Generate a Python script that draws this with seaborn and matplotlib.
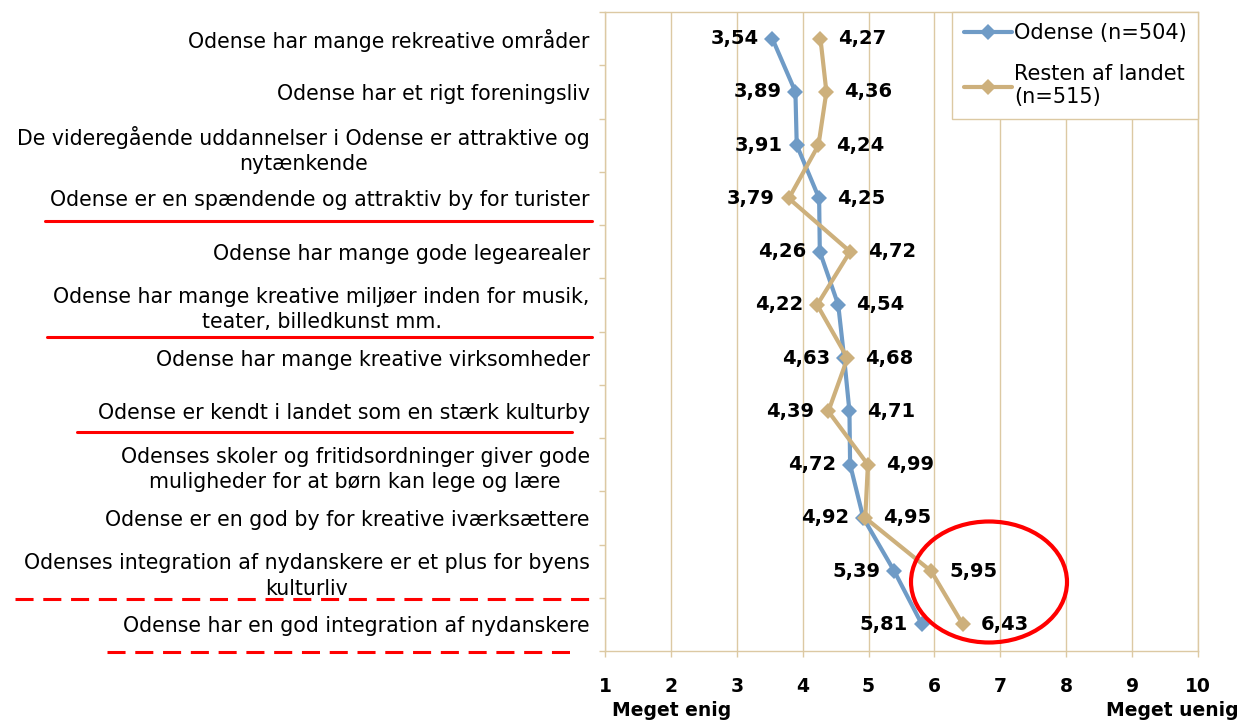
import matplotlib.pyplot as plt
import matplotlib.patches as mpatches
from matplotlib.lines import Line2D
import pandas as pd
import seaborn as sns

statements = [
    "Odense har mange rekreative områder",
    "Odense har et rigt foreningsliv",
    "De videregående uddannelser i Odense er attraktive og\nnytænkende",
    "Odense er en spændende og attraktiv by for turister",
    "Odense har mange gode legearealer",
    "Odense har mange kreative miljøer inden for musik,\nteater, billedkunst mm.",
    "Odense har mange kreative virksomheder",
    "Odense er kendt i landet som en stærk kulturby",
    "Odenses skoler og fritidsordninger giver gode\nmuligheder for at børn kan lege og lære",
    "Odense er en god by for kreative iværksættere",
    "Odenses integration af nydanskere er et plus for byens\nkulturliv",
    "Odense har en god integration af nydanskere",
]
odense = [3.54, 3.89, 3.91, 4.25, 4.26, 4.54, 4.63, 4.71, 4.72, 4.92, 5.39, 5.81]
resten = [4.27, 4.36, 4.24, 3.79, 4.72, 4.22, 4.68, 4.39, 4.99, 4.95, 5.95, 6.43]
series_names = ["Odense (n=504)", "Resten af landet\n(n=515)"]
scale_ticks = list(range(1, 11))

sns.set_style("white")
plt.rcParams["font.family"] = ["DejaVu Sans"]
plt.rcParams["text.color"] = "black"
plt.rcParams["xtick.labelcolor"] = "black"
plt.rcParams["ytick.labelcolor"] = "black"
plt.rcParams["lines.scale_dashes"] = False

blue = "#6F9BC6"
tan = "#CDB07C"
grid_tan = "#DCC9A3"
W, H = 1242, 721

rows = list(range(len(statements)))
df = pd.DataFrame({
    "row": rows * 2,
    "score": odense + resten,
    "group": [series_names[0]] * len(rows) + [series_names[1]] * len(rows),
})

fig = plt.figure(figsize=(W / 100, H / 100), dpi=100)
ax = fig.add_axes([605 / W, 1 - 651 / H, 593 / W, 639 / H])

sns.lineplot(data=df, x="score", y="row", hue="group", orient="y",
             palette=[blue, tan], marker="D", markersize=8.5, markeredgewidth=0,
             linewidth=3, estimator=None, legend=False, ax=ax)

ax.set_xlim(1, 10)
ax.set_ylim(11.5, -0.5)
ax.set_xlabel("")
ax.set_ylabel("")

ax.set_xticks(scale_ticks)
ax.set_xticklabels([str(t) for t in scale_ticks], fontsize=13.5, fontweight="bold")
ax.tick_params(axis="x", length=4, width=1, color=grid_tan, pad=15, bottom=True)

ax.set_yticks(rows)
ax.set_yticklabels(statements, fontsize=14.8, linespacing=1.35)
for lbl in ax.get_yticklabels():
    lbl.set_multialignment("center")
ax.set_yticks([r - 0.5 for r in rows] + [11.5], minor=True)
ax.tick_params(axis="y", which="major", length=0, pad=11)
ax.tick_params(axis="y", which="minor", length=4, width=1, color=grid_tan, left=True)

ax.xaxis.grid(True, color=grid_tan, linewidth=1)
ax.yaxis.grid(False)
for s in ax.spines.values():
    s.set_color(grid_tan)
    s.set_linewidth(1)

# data labels: smaller value left, larger value right
for r, (a, b) in enumerate(zip(odense, resten)):
    lo, hi = min(a, b), max(a, b)
    ax.annotate(f"{lo:.2f}".replace(".", ","), (lo, r), xytext=(-10, 0),
                textcoords="offset points", ha="right", va="center",
                fontsize=14, fontweight="bold")
    ax.annotate(f"{hi:.2f}".replace(".", ","), (hi, r), xytext=(13, 0),
                textcoords="offset points", ha="left", va="center",
                fontsize=14, fontweight="bold")

handles = [
    Line2D([], [], color=blue, lw=3, marker="D", markersize=8, markeredgewidth=0),
    Line2D([], [], color=tan, lw=3, marker="D", markersize=8, markeredgewidth=0),
]
leg = ax.legend(handles, series_names, loc="upper right", bbox_to_anchor=(1, 1),
                borderaxespad=0, fontsize=15, fancybox=False, framealpha=1,
                edgecolor=grid_tan, handlelength=2.3, handletextpad=0.1,
                labelspacing=1.0, borderpad=0.55)
leg.get_frame().set_linewidth(1)

# red highlight marks
def red_line(x0, x1, y, style):
    fig.add_artist(Line2D([x0 / W, x1 / W], [1 - y / H, 1 - y / H],
                          transform=fig.transFigure, color="red", lw=2.2,
                          linestyle=style))

red_line(45, 592, 221, "-")
red_line(47, 592, 337, "-")
red_line(77, 572, 432, "-")
red_line(15, 592, 599, (0, (13, 7)))
red_line(107, 572, 652, (0, (13, 7)))

fig.add_artist(mpatches.Ellipse((989 / W, 1 - 582 / H), 156 / W, 121 / H,
                                transform=fig.transFigure, fill=False,
                                edgecolor="red", lw=3))

fig.text(612 / W, 1 - 710 / H, "Meget enig", ha="left", va="center",
         fontsize=13.5, fontweight="bold")
fig.text(1106 / W, 1 - 710 / H, "Meget uenig", ha="left", va="center",
         fontsize=13.5, fontweight="bold")

fig.savefig("out.png", dpi=100)
